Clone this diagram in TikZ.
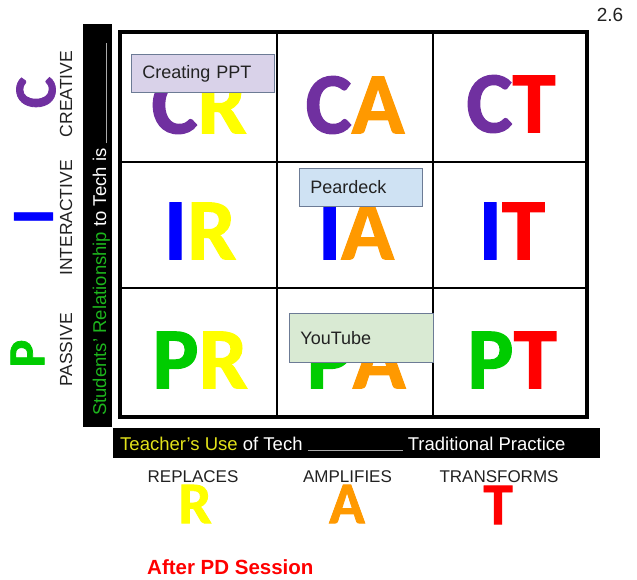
\documentclass[tikz,border=0pt]{standalone}
\usepackage{fontspec}
\setmainfont{Liberation Sans}
\newfontfamily\bigf{Carlito}[BoldFeatures={FakeBold=1.4}]
\definecolor{cpurple}{HTML}{7030A0}
\definecolor{cyellow}{HTML}{FFFF00}
\definecolor{corange}{HTML}{FF9900}
\definecolor{cred}{HTML}{FF0000}
\definecolor{cblue}{HTML}{0000FF}
\definecolor{cgreen}{HTML}{00CC00}
\definecolor{sgreen}{HTML}{1DB51D}
\definecolor{tyellow}{HTML}{E2E21A}
\definecolor{lgray}{HTML}{AAAAAA}
\definecolor{dtext}{HTML}{222222}
\definecolor{boxedge}{HTML}{6C7B95}
\definecolor{lav}{HTML}{D9D2E9}
\definecolor{lblue}{HTML}{CFE2F3}
\definecolor{lgreen}{HTML}{D9EAD3}
\begin{document}
\begin{tikzpicture}[x=1pt,y=-1pt,
  cell/.style={draw=black, line width=2.6pt, inner sep=0},
  bigl/.style={font=\bigf\bfseries\fontsize{87}{87}\selectfont, inner sep=0},
  midl/.style={font=\bigf\bfseries\fontsize{59}{59}\selectfont, inner sep=0},
  sidelabel/.style={rotate=90, anchor=base, inner sep=0, text=dtext, font=\fontsize{17.5}{20}\selectfont},
  botlabel/.style={anchor=base, inner sep=0, text=dtext, font=\fontsize{17}{20}\selectfont},
  tool/.style={draw=boxedge, line width=0.9pt, anchor=north west, align=left, inner xsep=11pt, inner ysep=0pt, text=dtext, font=\fontsize{18}{20}\selectfont}
]
\useasboundingbox (0,0) rectangle (637,580);

% grid cells
\node[cell, minimum width=157pt, minimum height=130pt] (cell11) at (198.5,97) {};
\node[cell, minimum width=156pt, minimum height=130pt] (cell12) at (355,97) {};
\node[cell, minimum width=154pt, minimum height=130pt] (cell13) at (510,97) {};
\node[cell, minimum width=157pt, minimum height=126pt] (cell21) at (198.5,225) {};
\node[cell, minimum width=156pt, minimum height=126pt] (cell22) at (355,225) {};
\node[cell, minimum width=154pt, minimum height=126pt] (cell23) at (510,225) {};
\node[cell, minimum width=157pt, minimum height=129pt] (cell31) at (198.5,352.5) {};
\node[cell, minimum width=156pt, minimum height=129pt] (cell32) at (355,352.5) {};
\node[cell, minimum width=154pt, minimum height=129pt] (cell33) at (510,352.5) {};
\draw[line width=3.4pt] (120,32) rectangle (587,417);

% cell letters
\node[bigl] (CR) at (199,105) {\textcolor{cpurple}{C}\textcolor{cyellow}{R}};
\node[bigl] (CA) at (355,105) {\textcolor{cpurple}{C}\textcolor{corange}{A}};
\node[bigl] (CT) at (511,104) {\textcolor{cpurple}{C}\textcolor{cred}{T}};
\node[bigl] (IR) at (200,231) {\textcolor{cblue}{I}\textcolor{cyellow}{R}};
\node[bigl] (IA) at (356,231) {\textcolor{cblue}{I}\textcolor{corange}{A}};
\node[bigl] (IT) at (512,231) {\textcolor{cblue}{I}\textcolor{cred}{T}};
\node[bigl] (PR) at (200,360) {\textcolor{cgreen}{P}\textcolor{cyellow}{R}};
\node[bigl] (PA) at (356,360) {\textcolor{cgreen}{P}\textcolor{corange}{A}};
\node[bigl] (PT) at (512,360) {\textcolor{cgreen}{P}\textcolor{cred}{T}};

% overlay boxes
\node[tool, fill=lav, minimum width=143pt, minimum height=38pt, text width=121pt] (ppt) at (131,54) {Creating PPT};
\node[tool, fill=lblue, minimum width=123pt, minimum height=38pt, text width=101pt] (pear) at (299,168) {Peardeck};
\node[tool, fill=lgreen, minimum width=144pt, minimum height=49pt, text width=122pt] (yt) at (289,313) {YouTube};

% left bar
\fill (83,24) rectangle (112,427);
\node[rotate=90, anchor=base west, inner sep=0, text=white, font=\fontsize{18.5}{20}\selectfont] (stud) at (106,416)
  {\textcolor{sgreen}{Students' Relationship} to Tech is \textcolor{lgray}{\rule[-1pt]{100pt}{0.8pt}}};

% left labels
\node[sidelabel] (creative) at (72,94) {CREATIVE};
\node[sidelabel] (interactive) at (72,218) {INTERACTIVE};
\node[sidelabel] (passive) at (72,350) {PASSIVE};
\node[midl, rotate=90] (lC) at (36,92.5) {\textcolor{cpurple}{C}};
\node[midl, rotate=90] (lI) at (33.5,216.5) {\textcolor{cblue}{I}};
\node[rotate=90, inner sep=0, font=\bigf\bfseries\fontsize{52}{52}\selectfont] (lP) at (27.5,353.5) {\textcolor{cgreen}{P}};

% bottom bar
\fill (113,428) rectangle (600,458);
\node[anchor=base west, inner sep=0, text=white, font=\fontsize{18.5}{20}\selectfont] (teach) at (120,450)
  {\textcolor{tyellow}{Teacher’s Use} of Tech \textcolor{lgray}{\rule[-1pt]{95pt}{0.8pt}} Traditional Practice};

% bottom labels
\node[botlabel] (repl) at (193,482) {REPLACES};
\node[botlabel] (ampl) at (347.5,482) {AMPLIFIES};
\node[botlabel] (trans) at (499,482) {TRANSFORMS};
\node[midl] (bR) at (195,504) {\textcolor{cyellow}{R}};
\node[midl] (bA) at (347,504) {\textcolor{corange}{A}};
\node[midl] (bT) at (498,505) {\textcolor{cred}{T}};

\node[anchor=west, inner sep=0, text=cred, font=\bfseries\fontsize{20.5}{22}\selectfont] (after) at (147,567) {After PD Session};
\node[anchor=base, inner sep=0, text=dtext, font=\fontsize{19}{20}\selectfont] (num) at (610,22) {2.6};
\end{tikzpicture}
\end{document}
